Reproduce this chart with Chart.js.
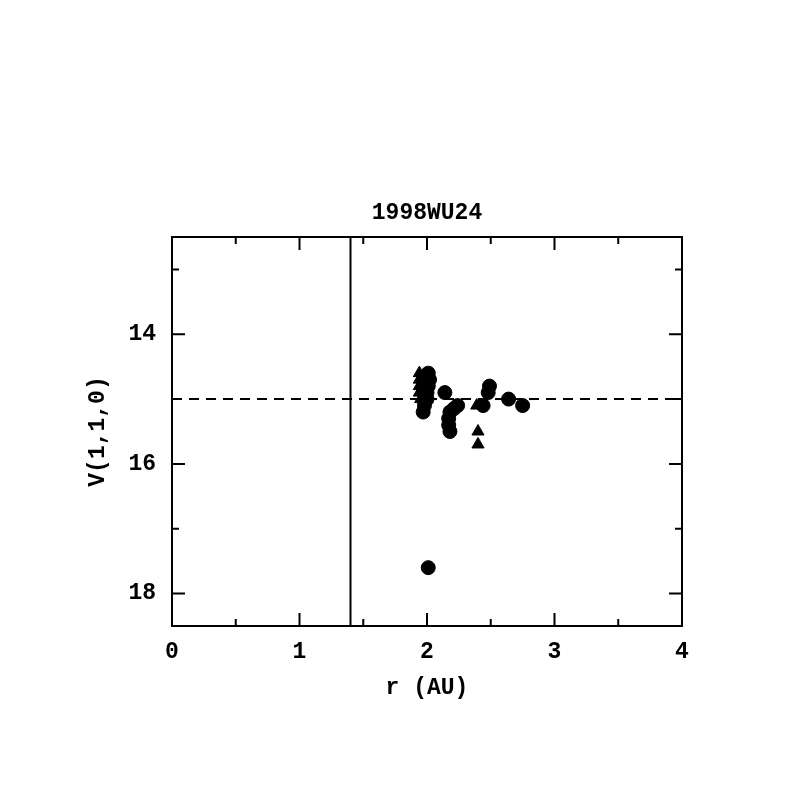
<!DOCTYPE html>
<html>
<head>
<meta charset="utf-8">
<script src="https://cdn.jsdelivr.net/npm/chart.js@4/dist/chart.umd.min.js"></script>
<style>
html,body{margin:0;padding:0;background:#fff;}
#wrap{width:797px;height:797px;}
</style>
</head>
<body>
<div id="wrap"><canvas id="c" width="797" height="797"></canvas></div>
<script>
const titleText = "1998WU24";
const xTitle = "r (AU)";
const yTitle = "V(1,1,0)";
const xTicks = [0, 1, 2, 3, 4];
const yTicks = [14, 16, 18];
const xMinorTicks = [0.5, 1.5, 2.5, 3.5];
const yMinorTicks = [13, 15, 17];

const circleR = [2.01, 2.02, 2.01, 2.00, 2.00, 1.98, 1.97, 2.14, 2.18, 2.17, 2.17, 2.18, 2.21, 2.24, 2.44, 2.49, 2.48, 2.64, 2.75, 2.01];
const circleV = [14.6, 14.7, 14.8, 14.9, 15.0, 15.1, 15.2, 14.9, 15.2, 15.3, 15.4, 15.5, 15.15, 15.1, 15.1, 14.8, 14.9, 15.0, 15.1, 17.6];

const triR = [1.94, 1.94, 1.94, 1.94, 1.95, 2.39, 2.40, 2.40];
const triV = [14.6, 14.7, 14.8, 14.9, 15.0, 15.1, 15.5, 15.7];

const refV = 15.0;      // dashed horizontal line
const refR = 1.4;       // solid vertical line
const xRange = [0, 4];
const yRange = [12.5, 18.5];

const FONT = "'Liberation Mono', 'DejaVu Sans Mono', monospace";
const F = {family: FONT, size: 23, weight: 'bold', lineHeight: 1.2};

const framePlugin = {
  id: 'frame',
  afterDatasetsDraw(chart) {
    const {ctx, chartArea: a, scales: {x, y}} = chart;
    ctx.save();
    ctx.strokeStyle = '#000';
    ctx.lineWidth = 2;
    ctx.strokeRect(a.left, a.top, a.right - a.left, a.bottom - a.top);
    ctx.beginPath();
    const major = 13, minor = 7;
    xTicks.forEach(v => { const p = x.getPixelForValue(v);
      ctx.moveTo(p, a.bottom); ctx.lineTo(p, a.bottom - major);
      ctx.moveTo(p, a.top); ctx.lineTo(p, a.top + major); });
    xMinorTicks.forEach(v => { const p = x.getPixelForValue(v);
      ctx.moveTo(p, a.bottom); ctx.lineTo(p, a.bottom - minor);
      ctx.moveTo(p, a.top); ctx.lineTo(p, a.top + minor); });
    yTicks.forEach(v => { const p = y.getPixelForValue(v);
      ctx.moveTo(a.left, p); ctx.lineTo(a.left + major, p);
      ctx.moveTo(a.right, p); ctx.lineTo(a.right - major, p); });
    yMinorTicks.forEach(v => { const p = y.getPixelForValue(v);
      ctx.moveTo(a.left, p); ctx.lineTo(a.left + minor, p);
      ctx.moveTo(a.right, p); ctx.lineTo(a.right - minor, p); });
    ctx.stroke();
    ctx.restore();
  }
};

new Chart(document.getElementById('c'), {
  type: 'scatter',
  data: {
    datasets: [
      {
        type: 'line', data: [{x: xRange[0], y: refV}, {x: xRange[1], y: refV}],
        borderColor: '#000', borderWidth: 2, borderDash: [10, 7], pointRadius: 0, fill: false
      },
      {
        type: 'line', data: [{x: refR, y: yRange[0]}, {x: refR, y: yRange[1]}],
        borderColor: '#000', borderWidth: 2, pointRadius: 0, fill: false
      },
      {
        data: circleR.map((r, i) => ({x: r, y: circleV[i]})),
        pointStyle: 'circle', pointRadius: 7, backgroundColor: '#000', borderColor: '#000', borderWidth: 1
      },
      {
        data: triR.map((r, i) => ({x: r, y: triV[i]})),
        pointStyle: 'triangle', pointRadius: 7, backgroundColor: '#000', borderColor: '#000', borderWidth: 1
      }
    ]
  },
  options: {
    responsive: false,
    animation: false,
    layout: {padding: {left: 0, right: 115, top: 0, bottom: 0}},
    plugins: {
      legend: {display: false},
      tooltip: {enabled: false},
      title: {display: false}
    },
    scales: {
      x2: {
        type: 'linear', position: 'top', min: xRange[0], max: xRange[1],
        grid: {display: false, drawTicks: false},
        border: {display: false},
        ticks: {display: false},
        afterFit(s) { s.height = 237; },
        title: {display: true, text: titleText, color: '#000', font: F, padding: {top: 199}}
      },
      x: {
        type: 'linear', position: 'bottom', min: xRange[0], max: xRange[1],
        grid: {display: false, drawTicks: false},
        border: {display: false},
        afterFit(s) { s.height = 797 - 626; },
        afterBuildTicks(s) { s.ticks = xTicks.map(v => ({value: v})); },
        ticks: {color: '#000', padding: 12, maxRotation: 0, font: F,
          callback: v => String(v)},
        title: {display: true, text: xTitle, color: '#000', font: F,
          padding: {bottom: 95}}
      },
      y: {
        type: 'linear', min: yRange[0], max: yRange[1], reverse: true,
        grid: {display: false, drawTicks: false},
        border: {display: false},
        afterFit(s) { s.width = 172; },
        afterBuildTicks(s) { s.ticks = yTicks.map(v => ({value: v})); },
        ticks: {color: '#000', padding: 16, font: F,
          callback: v => String(v)},
        title: {display: true, text: yTitle, color: '#000', font: F,
          padding: {top: 84}}
      }
    }
  },
  plugins: [framePlugin]
});
</script>
</body>
</html>
